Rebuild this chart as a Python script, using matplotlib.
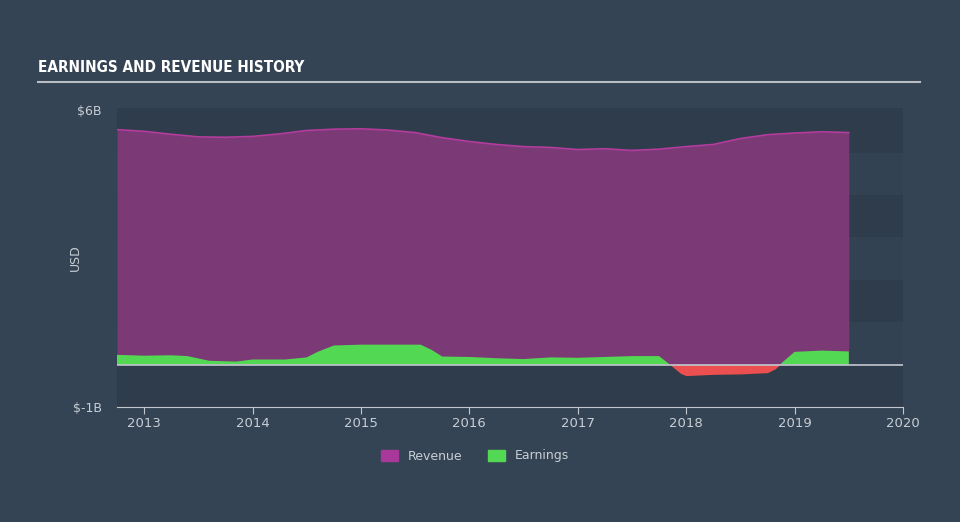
import numpy as np
import matplotlib.pyplot as plt
from matplotlib.patches import Patch

# values, in $B
rev_dates = [2012.75, 2013.0, 2013.25, 2013.5, 2013.75, 2014.0, 2014.25, 2014.5, 2014.75,
             2015.0, 2015.25, 2015.5, 2015.75, 2016.0, 2016.25, 2016.5, 2016.75, 2017.0,
             2017.25, 2017.5, 2017.75, 2018.0, 2018.25, 2018.5, 2018.75, 2019.0, 2019.25, 2019.5]
revenue = [5.54, 5.5, 5.43, 5.37, 5.36, 5.38, 5.44, 5.52, 5.55,
           5.56, 5.53, 5.47, 5.35, 5.26, 5.19, 5.14, 5.12, 5.07,
           5.09, 5.05, 5.08, 5.14, 5.19, 5.33, 5.42, 5.46, 5.49, 5.47]

earn_dates = [2012.75, 2013.0, 2013.25, 2013.4, 2013.6, 2013.85, 2014.0, 2014.3, 2014.5,
              2014.6, 2014.75, 2015.0, 2015.25, 2015.55, 2015.65, 2015.75, 2016.0, 2016.25,
              2016.5, 2016.75, 2017.0, 2017.25, 2017.5, 2017.75, 2017.85, 2017.95, 2018.0,
              2018.25, 2018.5, 2018.75, 2018.82, 2018.9, 2019.0, 2019.25, 2019.5]
earnings = [0.23, 0.21, 0.22, 0.2, 0.09, 0.07, 0.12, 0.12, 0.17,
            0.3, 0.45, 0.47, 0.47, 0.47, 0.35, 0.19, 0.18, 0.15,
            0.13, 0.17, 0.16, 0.18, 0.2, 0.2, 0.0, -0.21, -0.26,
            -0.23, -0.22, -0.19, -0.1, 0.08, 0.3, 0.33, 0.31]

y_ticks = [-1, 6]
y_labels = ["$-1B", "$6B"]
years = [2013, 2014, 2015, 2016, 2017, 2018, 2019, 2020]

bg = "#344454"
dark = "#2f3c4b"
light = "#334252"
text_c = "#c8ced4"

fig = plt.figure(figsize=(9.6, 5.22), dpi=100, facecolor=bg)
ax = fig.add_axes([117 / 960, 1 - 407 / 522, (903 - 117) / 960, (407 - 108) / 522])
ax.set_facecolor(dark)
ax.set_xlim(2012.75, 2020.0)
ax.set_ylim(-1.0, 6.05)

# alternating horizontal bands, the lighter ones at 0-1, 2-3, 4-5
for lo in range(-1, 6):
    if lo % 2 == 0:
        ax.axhspan(lo, lo + 1, color=light, lw=0, zorder=0)

rd = np.array(rev_dates)
ax.fill_between(rd, 0, revenue, color="#7b3a76", lw=0, zorder=1)
ax.plot(rd, revenue, color="#b43c9e", lw=1.2, zorder=2)

ed = np.array(earn_dates)
e = np.array(earnings)
ax.fill_between(ed, 0, e, where=e >= 0, interpolate=True, color="#53d853", lw=0, zorder=3)
ax.fill_between(ed, 0, e, where=e <= 0, interpolate=True, color="#eb4f4f", lw=0, zorder=3)

ax.axhline(0, color="#c2c8ce", lw=1.2, zorder=4)

for s in ax.spines.values():
    s.set_visible(False)
ax.spines["bottom"].set_visible(True)
ax.spines["bottom"].set_color("#c2c8ce")

ax.set_yticks(y_ticks)
ax.set_yticklabels(y_labels)
ax.tick_params(axis="y", length=0, pad=11, labelsize=9, labelcolor=text_c)
ax.set_xticks(years)
ax.set_xticklabels([str(y) for y in years])
ax.tick_params(axis="x", length=5, color="#c2c8ce", labelsize=9.5, labelcolor=text_c, pad=2)
ax.set_ylabel("USD", color=text_c, fontsize=9)
ax.yaxis.set_label_coords(-0.045, 0.5)

fig.text(38 / 960, 1 - 68 / 522, "EARNINGS AND REVENUE HISTORY", color="white",
         fontsize=11, fontweight="bold", fontstretch="condensed",
         family=["DejaVu Sans"], va="center", ha="left")
fig.add_artist(plt.Line2D([38 / 960, 920 / 960], [1 - 82 / 522, 1 - 82 / 522],
                          color="#b8bec4", lw=1.5))

handles = [Patch(color="#a8389a", label="Revenue"), Patch(color="#53d853", label="Earnings")]
fig.legend(handles=handles, loc="center", bbox_to_anchor=(475 / 960, 1 - 456 / 522), ncol=2,
           frameon=False, fontsize=9, labelcolor=text_c, handlelength=1.4, handleheight=1.0,
           columnspacing=2.0)

fig.savefig("out.png", facecolor=bg)
